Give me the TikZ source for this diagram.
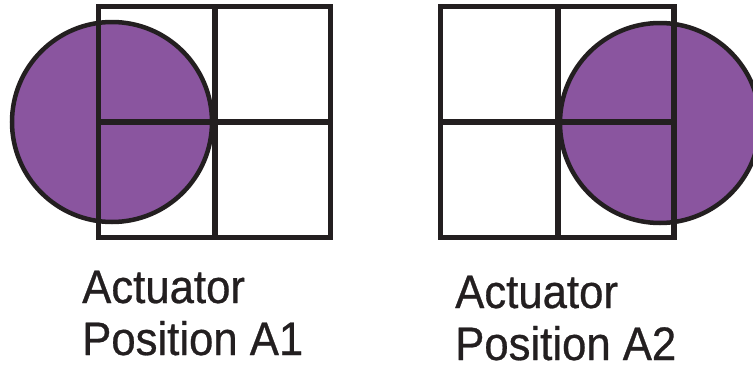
\documentclass[tikz,border=0pt]{standalone}
\usepackage{fontspec}
\setmainfont{Liberation Sans}[FakeStretch=0.93,FakeBold=0.6]
\definecolor{actpurple}{HTML}{8A559F}
\definecolor{inkline}{HTML}{231F20}
\tikzset{
  gridline/.style={draw=inkline, line width=5.5pt, line cap=rect},
  disc/.style={fill=actpurple, draw=inkline, line width=4.5pt},
  caption/.style={anchor=base west, inner sep=0pt, text=inkline,
    font=\fontsize{47pt}{52pt}\selectfont}
}
\begin{document}
\begin{tikzpicture}[x=1pt,y=-1pt]
\useasboundingbox (0,0) rectangle (753,370);
% left: actuator position A1
\draw[disc] (112,122) circle[radius=100];
\draw[gridline] (98.5,6.5) rectangle (330.5,237.5);
\draw[gridline] (215,6.5) -- (215,237.5);
\draw[gridline] (98.5,122) -- (330.5,122);
\node[caption] (capA1a) at (82,303) {Actuator};
\node[caption] (capA1b) at (82,355) {Position A1};
% right: actuator position A2
\draw[disc] (660,123) circle[radius=100];
\draw[gridline] (440.5,6.5) rectangle (674,237.5);
\draw[gridline] (558,6.5) -- (558,237.5);
\draw[gridline] (440.5,122) -- (674,122);
\node[caption] (capA2a) at (455,308) {Actuator};
\node[caption] (capA2b) at (455,360) {Position A2};
\end{tikzpicture}
\end{document}
